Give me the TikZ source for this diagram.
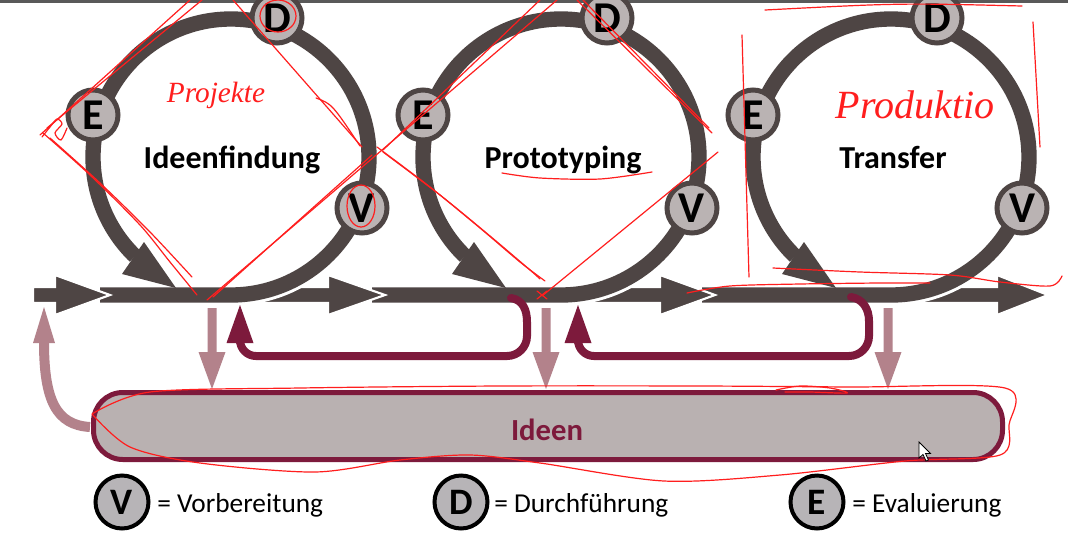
\documentclass[tikz,border=0pt]{standalone}
\usepackage{fontspec}
\setmainfont{Carlito}
\newfontfamily\handfont{Liberation Serif}
\usetikzlibrary{calc}
\definecolor{ringgray}{HTML}{4E4544}
\definecolor{badgefill}{HTML}{BAB3B3}
\definecolor{maroonc}{HTML}{7D1A3C}
\definecolor{pinkarrow}{HTML}{B3828B}
\definecolor{boxfill}{HTML}{B9B1B1}
\definecolor{legfill}{HTML}{B7B4B7}
\definecolor{inkred}{HTML}{FF1E1E}
% main chevron arrow: tail x, head base x, tip x
\newcommand\mainarrow[3]{%
  \fill[ringgray, draw=white, line width=1.6pt, line join=miter]
    (#1,287) -- (#2,287) -- (#2,275) -- (#3,295) -- (#2,315) -- (#2,303) -- (#1,303) -- cycle;}
% ring: centre x, start x of straight part, suffix
\newcommand\ringunit[3]{%
  \draw[casing] (#2,295) -- (#1,295) arc[start angle=90, end angle=-226, radius=138];
  \draw[ringline] (#2,295) -- (#1,295) arc[start angle=90, end angle=-226, radius=138];
  \fill[ringgray] ({#1-109},274) -- ({#1-87},242) -- ({#1-55},288) -- cycle;
  \node[badge] (d#3) at ({#1+46},18) {D};
  \node[badge] (e#3) at ({#1-138},115) {E};
  \node[badge] (v#3) at ({#1+131},208) {V};}
\newcommand\pinkdown[1]{%
  \fill[pinkarrow] ({#1-4.5},308) -- ({#1+4.5},308) -- ({#1+4.5},352) -- ({#1+13.5},352)
    -- (#1,389) -- ({#1-13.5},352) -- ({#1-4.5},352) -- cycle;}
\begin{document}
\begin{tikzpicture}[x=0.75pt,y=-0.75pt,
  ringline/.style={line width=11.5pt, draw=ringgray},
  casing/.style={line width=16pt, draw=white},
  badge/.style={circle, fill=badgefill, draw=ringgray, line width=3.75pt, minimum size=37.5pt,
    inner sep=0pt, font=\bfseries\fontsize{33}{33}\selectfont},
  legbadge/.style={circle, fill=legfill, draw=black, line width=3pt, minimum size=39.75pt,
    inner sep=0pt, font=\bfseries\fontsize{28}{28}\selectfont},
  title/.style={font=\bfseries\fontsize{24}{24}\selectfont, anchor=base},
  legtext/.style={font=\fontsize{20.5}{20.5}\selectfont, anchor=base west, inner sep=0pt},
  ink/.style={draw=inkred, line width=0.9pt, line cap=round, line join=round},
  hand/.style={text=inkred, font=\handfont\itshape\fontsize{#1}{#1}\selectfont},
  maroonline/.style={draw=maroonc, line width=6pt}
]
\useasboundingbox (0,0) rectangle (1068,558);
\fill[white] (0,0) rectangle (1068,558);
\fill[gray!70!black] (0,0) rectangle (1068,2.5);

% ---------- main flow (drawn right to left) ----------
\mainarrow{922}{997}{1048}
\ringunit{891}{702}{3}
\mainarrow{592}{660}{715}
\ringunit{561}{372}{2}
\mainarrow{262}{328}{385}
\ringunit{231}{100}{1}
\mainarrow{33}{55}{110}

\node[title] (t1) at (232,168) {Ideenfindung};
\node[title] (t2) at (563,168) {Prototyping};
\node[title] (t3) at (893,168) {Transfer};

% ---------- feedback arrows ----------
\pinkdown{212}
\pinkdown{546}
\pinkdown{888}

\draw[maroonline, line cap=round] (511,298) .. controls (523,300) and (527,310) .. (527,322)
  -- (527,336) arc[start angle=0, end angle=90, radius=20] -- (256,356)
  arc[start angle=90, end angle=180, radius=16] -- (240,343);
\fill[maroonc] (226.5,343) -- (253.5,343) -- (240,305) -- cycle;

\draw[maroonline, line cap=round] (851,297) .. controls (863,299) and (869,309) .. (869,321)
  -- (869,336) arc[start angle=0, end angle=90, radius=20] -- (594,356)
  arc[start angle=90, end angle=180, radius=16] -- (578,343);
\fill[maroonc] (564.5,343) -- (591.5,343) -- (578,305) -- cycle;

% ---------- Ideen box ----------
\draw[maroonc, line width=3.75pt, fill=boxfill, rounded corners=22pt] (93.5,392.5) rectangle (1002.5,459.5);
\node[font=\bfseries\fontsize{23}{23}\selectfont, text=maroonc, anchor=base] (ideen) at (547,440) {Ideen};

\draw[pinkarrow, line width=7.5pt] (90,427) .. controls (56,425) and (44,400) .. (44,342);
\fill[pinkarrow] (33,343) -- (55,343) -- (44,307) -- cycle;

% ---------- legend ----------
\node[legbadge] (lv) at (122,502) {V};
\node[legtext] (lvt) at (157,512) {= Vorbereitung};
\node[legbadge] (ld) at (461,502) {D};
\node[legtext] (ldt) at (494,512) {= Durchführung};
\node[legbadge] (le) at (817,502) {E};
\node[legtext] (let) at (852,512) {= Evaluierung};

% ---------- red handwritten annotations ----------
% ring 1
\draw[ink] (40,135) -- (190,0);
\draw[ink] (47,128) -- (202,0);
\draw[ink] plot[smooth] coordinates {(43,133) (90,175) (140,225) (170,262) (197,295)};
\draw[ink] plot[smooth] coordinates {(50,138) (100,183) (150,232) (192,277)};
\draw[ink] plot[smooth] coordinates {(42,137) (50,127) (57,119) (62,124) (55,133) (61,140) (67,128)};
\draw[ink] (233,0) -- (362,147);
\draw[ink] (316,98) .. controls (332,104) .. (360,146);
\draw[ink] (207,300) -- (557,0);
\draw[ink] (213,297) -- (372,155);
\draw[ink] (278,16) ellipse[x radius=18, y radius=16];
\draw[ink] (361,206) ellipse[x radius=14, y radius=21];
\node[hand=22] (h1) at (216,95) {Projekte};
% ring 2
\draw[ink] plot[smooth] coordinates {(377,147) (430,187) (480,228) (520,262) (545,281)};
\draw[ink] plot[smooth] coordinates {(383,152) (440,195) (490,236) (530,270) (540,279)};
\draw[ink] (383,150) -- (540,0);
\draw[ink] (542,296) -- (718,152);
\draw[ink] (577,0) -- (712,133);
\draw[ink] (583,0) -- (709,128);
\draw[ink] (537,291) -- (547,299);
\draw[ink] (537,299) -- (547,291);
\draw[ink] plot[smooth] coordinates {(502,173) (540,178) (600,179) (652,172)};
% ring 3
\draw[ink] (765,10) .. controls (900,3) .. (1022,6);
\draw[ink] (742,35) -- (749,277);
\draw[ink] (1033,22) -- (1040,147);
\draw[ink] plot[smooth] coordinates {(773,268) (860,272) (950,275) (1000,282) (1050,286) (1062,276)};
\draw[ink] plot[smooth] coordinates {(687,293) (730,286) (800,284) (880,283) (930,283)};
\node[hand=30] (h2) at (915,105) {Produktio};
% Ideen box loop
\draw[ink] plot[smooth] coordinates {(92,414) (150,392) (300,388) (500,386) (700,386) (850,387)
  (1005,388) (1009,425) (1000,455) (905,461) (780,475) (664,481) (540,463) (470,455)
  (400,460) (315,472) (200,463) (130,447) (92,414)};
\draw[ink] plot[smooth] coordinates {(776,390) (800,386) (830,388) (847,393) (810,392) (785,392)};

% mouse cursor
\filldraw[fill=white, draw=black, line width=0.6pt] (919,442) -- (919,458) -- (923,454.5)
  -- (926,461) -- (928.5,460) -- (925.5,453.5) -- (930.5,453.5) -- cycle;
\end{tikzpicture}
\end{document}
